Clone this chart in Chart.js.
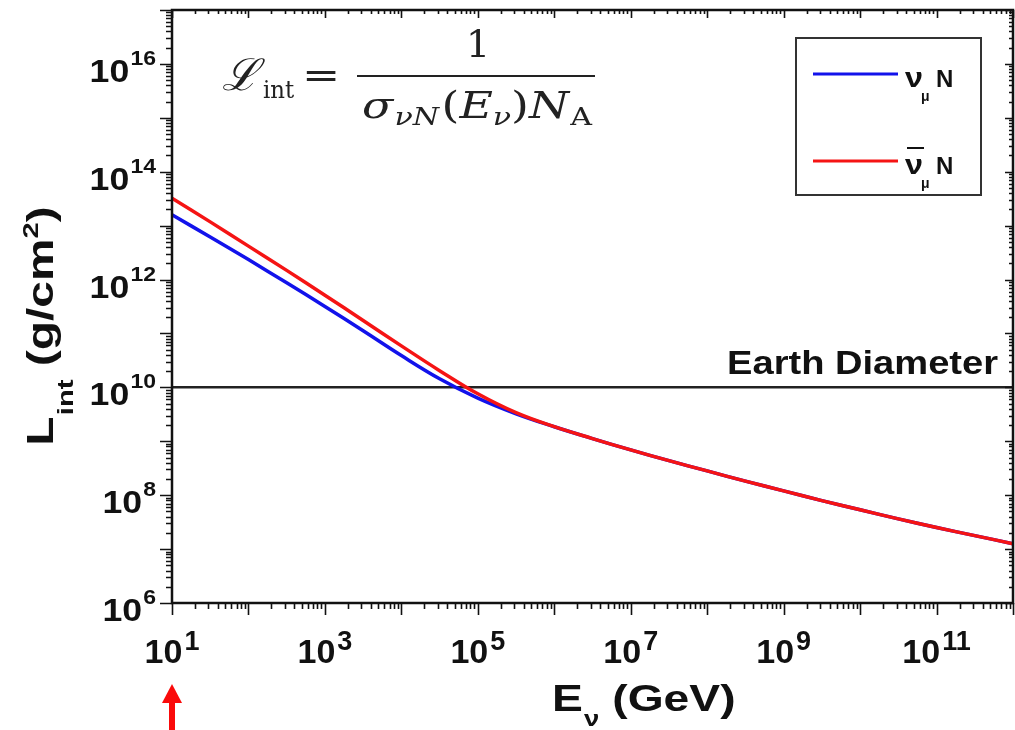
<!DOCTYPE html>
<html>
<head>
<meta charset="utf-8">
<script src="https://cdn.jsdelivr.net/npm/chart.js@4/dist/chart.umd.min.js"></script>
<style>
  html, body { margin: 0; padding: 0; background: #fff; }
  #wrap { width: 1015px; height: 730px; position: relative; }
</style>
</head>
<body>
<div id="wrap"><canvas id="c"></canvas></div>
<script>
// Neutrino energy grid, log10(E / GeV)
const energyExp = [1, 1.5, 2, 2.5, 3, 3.5, 4, 4.5, 5, 5.5, 6, 6.5, 7, 7.5, 8, 8.5, 9, 9.5, 10, 10.5, 11, 11.5, 12];
// Interaction length, log10(L_int / (g/cm^2)), nu_mu N
const numuLogL = [13.20, 12.79, 12.37, 11.94, 11.50, 11.05, 10.59, 10.16, 9.80, 9.51, 9.27, 9.05, 8.84, 8.64, 8.45, 8.26, 8.08, 7.90, 7.73, 7.56, 7.40, 7.25, 7.10];
// Interaction length, log10(L_int / (g/cm^2)), anti-nu_mu N
const numubarLogL = [13.51, 13.07, 12.62, 12.17, 11.71, 11.24, 10.77, 10.31, 9.88, 9.53, 9.27, 9.05, 8.84, 8.64, 8.45, 8.26, 8.08, 7.90, 7.73, 7.56, 7.40, 7.25, 7.10];
// Column depth of the Earth's diameter, g/cm^2
const earthDiameterL = 1e10;
// Labelled decades on each axis
const xTickExp = [1, 3, 5, 7, 9, 11];
const yTickExp = [6, 8, 10, 12, 14, 16];
const xLimits = [1e1, 1e12];
const yLimits = [1e6, 1e17];
// Energy marked with the arrow under the axis
const markedEnergy = 10;

const BLUE = 'rgb(18,18,235)';
const RED = 'rgb(245,20,20)';
const SANS = '"Liberation Sans", Arial, sans-serif';
const SERIF = '"DejaVu Serif", "Liberation Serif", serif';

function toPoints(logs) {
  return energyExp.map((e, i) => ({ x: Math.pow(10, e), y: Math.pow(10, logs[i]) }));
}

// Text runs (sub/superscripts via dy), with a horizontal stretch sx
function runsWidth(ctx, runs) {
  let w = 0;
  for (const r of runs) { ctx.font = r.font; w += ctx.measureText(r.t).width + (r.gap || 0); }
  return w;
}
function drawRuns(ctx, runs, x, y, align, sx) {
  sx = sx || 1;
  const w = runsWidth(ctx, runs) * sx;
  const x0 = align === 'center' ? x - w / 2 : (align === 'right' ? x - w : x);
  ctx.save();
  ctx.translate(x0, y);
  ctx.scale(sx, 1);
  ctx.textAlign = 'left';
  ctx.textBaseline = 'alphabetic';
  let px = 0;
  for (const r of runs) {
    ctx.font = r.font;
    ctx.fillText(r.t, px + (r.dx || 0), r.dy || 0);
    px += ctx.measureText(r.t).width + (r.gap || 0);
  }
  ctx.restore();
}
// Same, squeezed or stretched to span a given width
function drawRunsFit(ctx, runs, x, y, width) {
  drawRuns(ctx, runs, x, y, 'left', width / runsWidth(ctx, runs));
}

const decorations = {
  id: 'decorations',
  afterDatasetsDraw(chart) {
    const ctx = chart.ctx;
    const a = chart.chartArea;
    const xs = chart.scales.x, ys = chart.scales.y;
    ctx.save();
    ctx.fillStyle = '#111';
    ctx.strokeStyle = '#111';

    // frame
    ctx.lineWidth = 2.5;
    ctx.strokeRect(a.left, a.top, a.right - a.left, a.bottom - a.top);

    // tick marks: decades long, 2..9 short
    ctx.lineWidth = 1.6;
    const majorLen = 12, minorLen = 6, innerMajor = 8, innerMinor = 4;
    ctx.beginPath();
    for (let k = 1; k <= 12; k++) {
      for (let m = 1; m <= 9; m++) {
        const v = m * Math.pow(10, k);
        if (v < xLimits[0] || v > xLimits[1]) continue;
        const px = Math.round(xs.getPixelForValue(v)) + 0.5;
        const out = m === 1 ? majorLen : minorLen;
        const inn = m === 1 ? innerMajor : innerMinor;
        ctx.moveTo(px, a.bottom); ctx.lineTo(px, a.bottom + out);
        ctx.moveTo(px, a.top); ctx.lineTo(px, a.top + inn);
      }
    }
    for (let k = 6; k <= 17; k++) {
      for (let m = 1; m <= 9; m++) {
        const v = m * Math.pow(10, k);
        if (v < yLimits[0] || v > yLimits[1]) continue;
        const py = Math.round(ys.getPixelForValue(v)) + 0.5;
        const out = m === 1 ? majorLen : minorLen;
        const inn = m === 1 ? innerMajor : innerMinor;
        ctx.moveTo(a.left, py); ctx.lineTo(a.left - out, py);
        ctx.moveTo(a.right, py); ctx.lineTo(a.right - inn, py);
      }
    }
    ctx.stroke();

    // y tick labels 10^n
    for (const e of yTickExp) {
      const py = ys.getPixelForValue(Math.pow(10, e));
      drawRuns(ctx, [
        { t: '10', font: 'bold 31px ' + SANS, gap: 1 },
        { t: String(e), font: 'bold 20px ' + SANS, dy: -17 }
      ], a.left - 16, py + 18, 'right', 1.15);
    }
    // x tick labels 10^n
    for (const e of xTickExp) {
      const px = xs.getPixelForValue(Math.pow(10, e));
      drawRuns(ctx, [
        { t: '10', font: 'bold 34px ' + SANS, gap: 2 },
        { t: String(e), font: 'bold 27px ' + SANS, dy: -13 }
      ], px, a.bottom + 60, 'center', 1.0);
    }

    // axis titles
    drawRuns(ctx, [
      { t: 'E', font: 'bold 37px ' + SANS, gap: 1 },
      { t: 'ν', font: 'bold 22px ' + SANS, dy: 15 },
      { t: ' (GeV)', font: 'bold 37px ' + SANS }
    ], 552, 711, 'left', 1.25);

    ctx.save();
    ctx.translate(53, 326);
    ctx.rotate(-Math.PI / 2);
    drawRuns(ctx, [
      { t: 'L', font: 'bold 36px ' + SANS, gap: 1 },
      { t: 'int', font: 'bold 22px ' + SANS, dy: 20 },
      { t: ' (g/cm', font: 'bold 36px ' + SANS },
      { t: '2', font: 'bold 22px ' + SANS, dy: -15 },
      { t: ')', font: 'bold 36px ' + SANS }
    ], 0, 0, 'center', 1.33);
    ctx.restore();

    // Earth diameter label
    const ey = ys.getPixelForValue(earthDiameterL);
    drawRuns(ctx, [{ t: 'Earth Diameter', font: 'bold 34px ' + SANS }], 998, ey - 13, 'right', 1.12);

    // legend
    ctx.lineWidth = 2;
    ctx.strokeStyle = '#333';
    ctx.strokeRect(796, 38, 185, 157);
    const rows = [
      { y: 74, color: BLUE, bar: false },
      { y: 161, color: RED, bar: true }
    ];
    for (const r of rows) {
      ctx.strokeStyle = r.color;
      ctx.lineWidth = 3;
      ctx.beginPath(); ctx.moveTo(813, r.y); ctx.lineTo(898, r.y); ctx.stroke();
      ctx.fillStyle = '#111';
      drawRuns(ctx, [{ t: 'ν', font: 'bold 27px ' + SANS }], 905, r.y + 13, 'left', 1.2);
      drawRuns(ctx, [{ t: 'μ', font: 'bold 14px ' + SANS }], 921, r.y + 27, 'left', 1.0);
      drawRuns(ctx, [{ t: 'N', font: 'bold 24px ' + SANS }], 936, r.y + 13, 'left', 1.0);
      if (r.bar) ctx.fillRect(907, r.y - 14, 17, 2);
    }

    // formula L_int = 1 / (sigma_nuN(E_nu) N_A)
    ctx.fillStyle = '#222';
    drawRuns(ctx, [{ t: 'ℒ', font: 'italic 44px ' + SERIF }], 222, 90, 'left', 1.0);
    drawRuns(ctx, [{ t: 'int', font: '24px ' + SERIF }], 263, 98, 'left', 0.95);
    drawRuns(ctx, [{ t: '=', font: '38px ' + SERIF }], 302, 88, 'left', 1.2);
    ctx.fillRect(357, 75, 238, 2);
    drawRuns(ctx, [{ t: '1', font: '38px ' + SERIF }], 478, 57, 'center', 1.0);
    drawRunsFit(ctx, [
      { t: 'σ', font: 'italic 38px ' + SERIF, gap: 1 },
      { t: 'νN', font: 'italic 25px ' + SERIF, dy: 7, gap: 2 },
      { t: '(', font: '38px ' + SERIF },
      { t: 'E', font: 'italic 38px ' + SERIF },
      { t: 'ν', font: 'italic 25px ' + SERIF, dy: 7 },
      { t: ')', font: '38px ' + SERIF },
      { t: 'N', font: 'italic 38px ' + SERIF, gap: 1 },
      { t: 'A', font: '25px ' + SERIF, dy: 7 }
    ], 362, 118, 230);

    // arrow marking the lowest energy
    const ax = xs.getPixelForValue(markedEnergy);
    ctx.fillStyle = 'rgb(250,10,10)';
    ctx.beginPath();
    ctx.moveTo(ax, 684);
    ctx.lineTo(ax - 10, 703);
    ctx.lineTo(ax + 10, 703);
    ctx.closePath();
    ctx.fill();
    ctx.fillRect(ax - 3, 700, 6, 30);

    ctx.restore();
  }
};

new Chart(document.getElementById('c'), {
  type: 'line',
  data: {
    datasets: [
      {
        label: 'ν̄μN',
        data: toPoints(numubarLogL),
        borderColor: RED,
        borderWidth: 3.5,
        pointRadius: 0,
        tension: 0.4,
        order: 0
      },
      {
        label: 'νμN',
        data: toPoints(numuLogL),
        borderColor: BLUE,
        borderWidth: 3.5,
        pointRadius: 0,
        tension: 0.4,
        order: 1
      },
      {
        label: 'Earth Diameter',
        data: [{ x: xLimits[0], y: earthDiameterL }, { x: xLimits[1], y: earthDiameterL }],
        borderColor: '#222',
        borderWidth: 2.5,
        pointRadius: 0,
        order: 2
      }
    ]
  },
  options: {
    responsive: true,
    maintainAspectRatio: false,
    animation: false,
    events: [],
    layout: { padding: { left: 172, right: 2, top: 10, bottom: 127 } },
    plugins: { legend: { display: false }, tooltip: { enabled: false } },
    scales: {
      x: {
        type: 'logarithmic', min: xLimits[0], max: xLimits[1],
        ticks: { display: false }, grid: { display: false }, border: { display: false },
        afterFit(s) { s.height = 0; }
      },
      y: {
        type: 'logarithmic', min: yLimits[0], max: yLimits[1],
        ticks: { display: false }, grid: { display: false }, border: { display: false },
        afterFit(s) { s.width = 0; }
      }
    }
  },
  plugins: [decorations]
});
</script>
</body>
</html>
